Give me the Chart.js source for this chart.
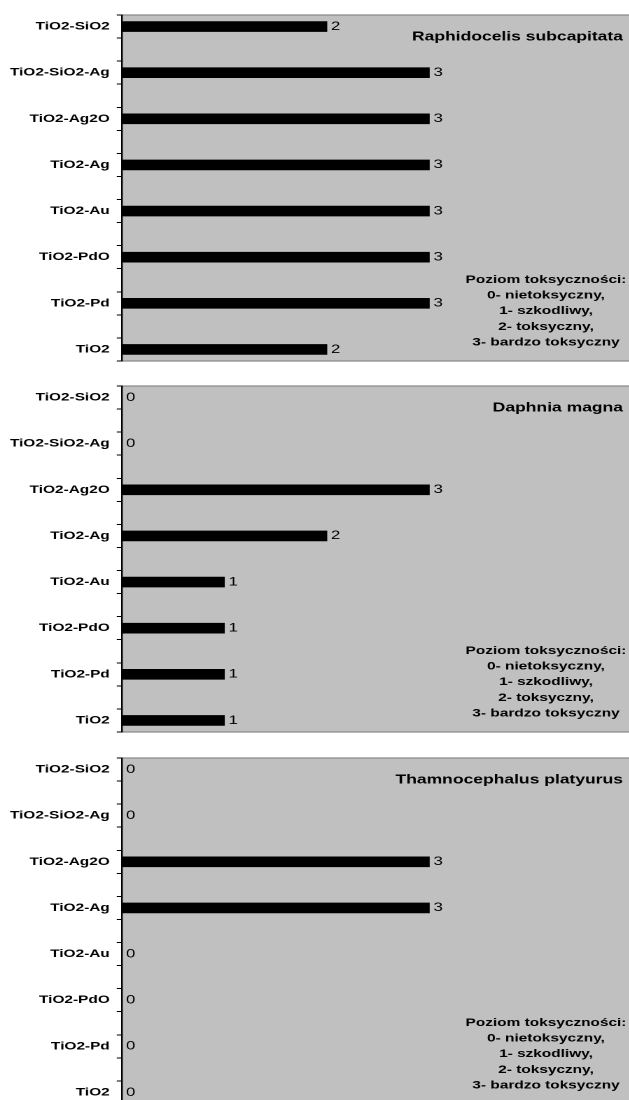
<!DOCTYPE html>
<html>
<head>
<meta charset="utf-8">
<script src="https://cdn.jsdelivr.net/npm/chart.js@4"></script>
<style>
  html, body { margin: 0; padding: 0; background: #fff; }
  body { width: 629px; height: 1100px; overflow: hidden; position: relative; }
  .panel {
    position: absolute;
    left: 0;
    width: 453px;
    height: 354px;
    transform: scaleX(1.4);
    transform-origin: 0 0;
  }
</style>
</head>
<body>
<div class="panel" style="top: 11px;"><canvas id="panel1"></canvas></div>
<div class="panel" style="top: 382px;"><canvas id="panel2"></canvas></div>
<div class="panel" style="top: 754px;"><canvas id="panel3"></canvas></div>

<script>
// Compounds, top to bottom
const categories = ['TiO2-SiO2', 'TiO2-SiO2-Ag', 'TiO2-Ag2O', 'TiO2-Ag', 'TiO2-Au', 'TiO2-PdO', 'TiO2-Pd', 'TiO2'];

// Toxicity level per compound for each test organism
const raphidocelisValues = [2, 3, 3, 3, 3, 3, 3, 2];
const daphniaValues = [0, 0, 3, 2, 1, 1, 1, 1];
const thamnocephalusValues = [0, 0, 3, 3, 0, 0, 0, 0];

const speciesNames = ['Raphidocelis subcapitata', 'Daphnia magna', 'Thamnocephalus platyurus'];

// Scale text shown in each panel
const scaleLines = [
    'Poziom toksyczności:',
    '0- nietoksyczny,',
    '1- szkodliwy,',
    '2- toksyczny,',
    '3- bardzo toksyczny'
];

const xMin = 0;
const xMax = 5;

const fontFamily = '"Liberation Sans", Arial, Helvetica, sans-serif';

// Each compound gets its own row with an empty row in between
function spacedLabels(list) {
    const out = [];
    list.forEach((name, i) => {
        out.push(name);
        if (i < list.length - 1) out.push('');
    });
    return out;
}

function spacedValues(list) {
    const out = [];
    list.forEach((v, i) => {
        out.push(v);
        if (i < list.length - 1) out.push(null);
    });
    return out;
}

// Grey plot area with top and bottom frame lines
const plotBackground = {
    id: 'plotBackground',
    beforeDraw(chart) {
        const { ctx, chartArea: a } = chart;
        ctx.save();
        ctx.fillStyle = '#c0c0c0';
        ctx.fillRect(a.left, a.top, a.right - a.left, a.bottom - a.top);
        ctx.strokeStyle = '#8a8a8a';
        ctx.lineWidth = 1.2;
        ctx.beginPath();
        ctx.moveTo(a.left, a.top);
        ctx.lineTo(a.right, a.top);
        ctx.moveTo(a.left, a.bottom);
        ctx.lineTo(a.right, a.bottom);
        ctx.stroke();
        ctx.restore();
    }
};

// Value next to the end of each bar
const barValues = {
    id: 'barValues',
    afterDatasetsDraw(chart) {
        const ctx = chart.ctx;
        const data = chart.data.datasets[0].data;
        const meta = chart.getDatasetMeta(0);
        ctx.save();
        ctx.fillStyle = '#000';
        ctx.font = '12px ' + fontFamily;
        ctx.textAlign = 'left';
        ctx.textBaseline = 'middle';
        meta.data.forEach((bar, i) => {
            if (data[i] === null) return;
            ctx.fillText(String(data[i]), bar.x + 3, bar.y);
        });
        ctx.restore();
    }
};

// Species name (top right) and the toxicity scale (bottom right)
const panelText = {
    id: 'panelText',
    afterDraw(chart, args, opts) {
        const { ctx, chartArea: a } = chart;
        ctx.save();
        ctx.fillStyle = '#000';
        ctx.textBaseline = 'middle';

        ctx.font = 'bold 12.5px ' + fontFamily;
        ctx.textAlign = 'right';
        ctx.fillText(opts.name, a.right - 8, a.top + 22);

        ctx.font = 'bold 11px ' + fontFamily;
        ctx.textAlign = 'center';
        scaleLines.forEach((line, i) => {
            ctx.fillText(line, 390, a.top + 265 + i * 15.6);
        });
        ctx.restore();
    }
};

function makePanel(canvasId, name, values) {
    const ctx = document.getElementById(canvasId).getContext('2d');
    return new Chart(ctx, {
        type: 'bar',
        data: {
            labels: spacedLabels(categories),
            datasets: [{
                data: spacedValues(values),
                backgroundColor: '#000',
                borderWidth: 0,
                barThickness: 10
            }]
        },
        options: {
            indexAxis: 'y',
            responsive: true,
            maintainAspectRatio: false,
            animation: false,
            devicePixelRatio: 2,
            layout: { padding: { top: 4, bottom: 4, left: 0, right: 0 } },
            scales: {
                x: {
                    display: false,
                    min: xMin,
                    max: xMax
                },
                y: {
                    grid: {
                        drawOnChartArea: false,
                        drawTicks: true,
                        tickLength: 3.6,
                        color: '#000',
                        lineWidth: 1,
                        offset: true
                    },
                    border: { display: true, color: '#000', width: 1.2 },
                    ticks: {
                        color: '#000',
                        autoSkip: false,
                        padding: 5,
                        font: { family: fontFamily, size: 11, weight: 'bold' }
                    },
                    afterFit(scale) {
                        // fixed axis width, and no extra room for the end labels
                        scale.width = 87;
                        scale.paddingTop = 0;
                        scale.paddingBottom = 0;
                    }
                }
            },
            plugins: {
                legend: { display: false },
                tooltip: { enabled: false },
                panelText: { name: name }
            }
        },
        plugins: [plotBackground, barValues, panelText]
    });
}

makePanel('panel1', speciesNames[0], raphidocelisValues);
makePanel('panel2', speciesNames[1], daphniaValues);
makePanel('panel3', speciesNames[2], thamnocephalusValues);
</script>
</body>
</html>
